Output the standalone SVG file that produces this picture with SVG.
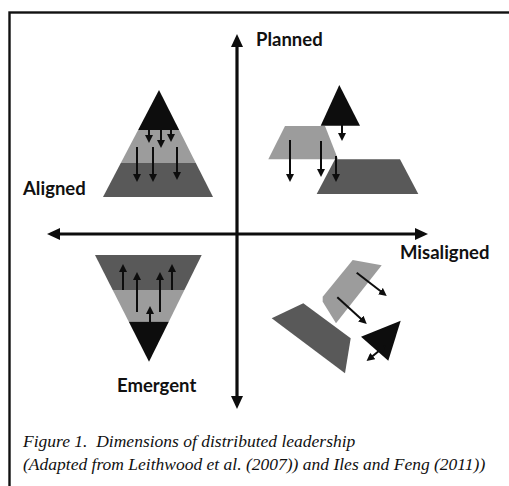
<svg xmlns="http://www.w3.org/2000/svg" width="509" height="486" viewBox="0 0 509 486">
  <style>
    .frame { fill: none; stroke: #111; stroke-width: 2.4; }
    .black { fill: #0d0d0d; }
    .light { fill: #9c9c9c; }
    .dark { fill: #595959; }
    .flow { stroke: #0d0d0d; stroke-width: 2; fill: none; }
    .axis { stroke: #0d0d0d; stroke-width: 3.2; fill: none; }
    .label { font-family: Lato, "Open Sans", "Liberation Sans", sans-serif; font-weight: 700; font-size: 18.5px; fill: #111; }
    .caption { font-family: "Liberation Serif", "DejaVu Serif", serif; font-style: italic; font-size: 17.5px; fill: #111; white-space: pre; }
  </style>
  <defs>
    <marker id="head" markerUnits="userSpaceOnUse" markerWidth="8" markerHeight="8" refX="2" refY="4" orient="auto-start-reverse">
      <path d="M0,0 L8,4 L0,8 z" fill="#0d0d0d"/>
    </marker>
    <marker id="axisHead" markerUnits="userSpaceOnUse" markerWidth="13" markerHeight="12" refX="3" refY="6" orient="auto-start-reverse">
      <path d="M0,0 L13,6 L0,12 z" fill="#0d0d0d"/>
    </marker>
  </defs>

  <rect width="509" height="486" fill="#fff"/>
  <rect class="frame" x="9.5" y="12.5" width="520" height="490"/>

  <!-- axes -->
  <g id="connectors">
    <line class="axis" x1="237" y1="399" x2="237" y2="44" marker-start="url(#axisHead)" marker-end="url(#axisHead)"/>
    <line class="axis" x1="57" y1="234" x2="418" y2="234" marker-start="url(#axisHead)" marker-end="url(#axisHead)"/>
  </g>

  <!-- axis labels -->
  <g id="label-planned"><text class="label" x="256" y="46">Planned</text></g>
  <g id="label-aligned"><text class="label" x="23" y="195">Aligned</text></g>
  <g id="label-misaligned"><text class="label" x="400" y="259">Misaligned</text></g>
  <g id="label-emergent"><text class="label" x="117" y="392">Emergent</text></g>

  <!-- planned + aligned: top-down pyramid -->
  <g id="planned-aligned">
    <polygon class="black" points="159,90 179.2,130 138.1,130"/>
    <polygon class="light" points="138.1,130 179.2,130 195.8,163 120.8,163"/>
    <polygon class="dark" points="120.8,163 195.8,163 213,197 103,197"/>
    <line class="flow" x1="149" y1="128" x2="149" y2="137" marker-end="url(#head)"/>
    <line class="flow" x1="161" y1="128" x2="161" y2="142" marker-end="url(#head)"/>
    <line class="flow" x1="171" y1="128" x2="171" y2="136" marker-end="url(#head)"/>
    <line class="flow" x1="137" y1="147" x2="137" y2="176" marker-end="url(#head)"/>
    <line class="flow" x1="153" y1="147" x2="153" y2="176" marker-end="url(#head)"/>
    <line class="flow" x1="177" y1="147" x2="177" y2="174" marker-end="url(#head)"/>
  </g>

  <!-- planned + misaligned: separated layers -->
  <g id="planned-misaligned">
    <polygon class="black" points="339.3,85 360,125.7 320.7,125.7"/>
    <polygon class="light" points="285,126 325,126 338,159.3 268.3,159.3"/>
    <polygon class="dark" points="335,159.3 400,159.3 418.3,194 316.7,194"/>
    <line class="flow" x1="342" y1="124" x2="342" y2="135" marker-end="url(#head)"/>
    <line class="flow" x1="290" y1="140" x2="290" y2="176" marker-end="url(#head)"/>
    <line class="flow" x1="321" y1="141" x2="321" y2="171" marker-end="url(#head)"/>
    <line class="flow" x1="336" y1="156" x2="336" y2="176" marker-end="url(#head)"/>
  </g>

  <!-- emergent + aligned: bottom-up pyramid -->
  <g id="emergent-aligned">
    <polygon class="dark" points="95,255 201.7,255 184.4,290 112.7,290"/>
    <polygon class="light" points="112.7,290 184.4,290 168.8,321.7 128.8,321.7"/>
    <polygon class="black" points="128.8,321.7 168.8,321.7 149,361.7"/>
    <line class="flow" x1="123" y1="290" x2="123" y2="270" marker-end="url(#head)"/>
    <line class="flow" x1="137" y1="312" x2="137" y2="278" marker-end="url(#head)"/>
    <line class="flow" x1="160" y1="312" x2="160" y2="278" marker-end="url(#head)"/>
    <line class="flow" x1="172" y1="290" x2="172" y2="270" marker-end="url(#head)"/>
    <line class="flow" x1="150" y1="322" x2="150" y2="312" marker-end="url(#head)"/>
  </g>

  <!-- emergent + misaligned: scattered layers -->
  <g id="emergent-misaligned">
    <polygon class="dark" points="271.7,318.3 303.3,303.3 350.7,338.3 345,373.3"/>
    <polygon class="light" points="352.7,260 381.7,265.3 336,323.3 322.7,301.7 322.7,296.7"/>
    <polygon class="black" points="361,336.7 400.7,320.7 388.3,360.7"/>
    <line class="flow" x1="356.7" y1="272.7" x2="382" y2="292.3" marker-end="url(#head)"/>
    <line class="flow" x1="337.3" y1="297.3" x2="362.3" y2="320" marker-end="url(#head)"/>
    <line class="flow" x1="381" y1="349.3" x2="371.2" y2="357.3" marker-start="url(#head)" marker-end="url(#head)"/>
  </g>

  <!-- caption -->
  <g id="caption">
    <text class="caption" x="23" y="447">Figure 1.  Dimensions of distributed leadership</text>
    <text class="caption" x="23" y="470">(Adapted from Leithwood et al. (2007)) and Iles and Feng (2011))</text>
  </g>
</svg>
